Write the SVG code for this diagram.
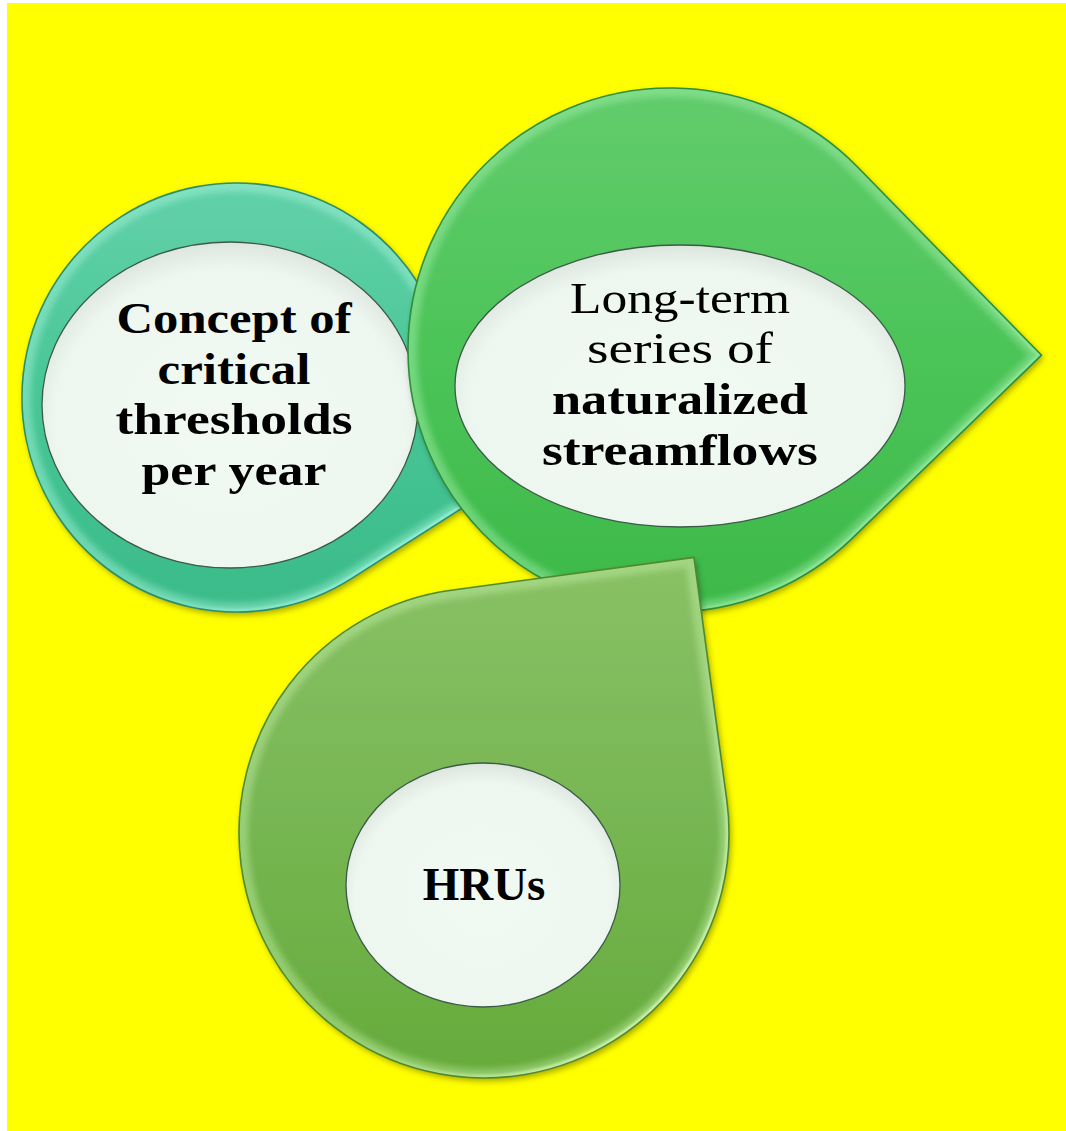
<svg xmlns="http://www.w3.org/2000/svg" width="1066" height="1131" viewBox="0 0 1066 1131">
  <style>
    .lbl { font-family: "Liberation Serif", "DejaVu Serif", serif; font-size: 45px; fill: #000; text-anchor: middle; }
    .b { font-weight: bold; }
    .r { font-weight: normal; }
    .outline { fill: none; stroke-width: 1.6; }
    .glow { fill: none; stroke-width: 18; opacity: 0.45; }
    .edge { fill: none; stroke-width: 7; }
    .inner { stroke: #3c5a48; stroke-width: 1.3; }
  </style>
  <defs>
    <linearGradient id="gTeal" x1="0" y1="0" x2="0" y2="1">
      <stop offset="0" stop-color="#63D1AA"/>
      <stop offset="0.5" stop-color="#48C696"/>
      <stop offset="1" stop-color="#3BBB89"/>
    </linearGradient>
    <linearGradient id="gGreen" x1="0" y1="0" x2="0" y2="1">
      <stop offset="0" stop-color="#62CC6C"/>
      <stop offset="0.5" stop-color="#4CC458"/>
      <stop offset="1" stop-color="#3DB949"/>
    </linearGradient>
    <linearGradient id="gOlive" x1="0" y1="0" x2="0" y2="1">
      <stop offset="0" stop-color="#89C166"/>
      <stop offset="0.5" stop-color="#77B652"/>
      <stop offset="1" stop-color="#66AB3C"/>
    </linearGradient>
    <linearGradient id="eTeal" x1="0" y1="0" x2="1" y2="1">
      <stop offset="0.55" stop-color="#9BF7E2" stop-opacity="0"/>
      <stop offset="0.85" stop-color="#9BF7E2" stop-opacity="0.9"/>
    </linearGradient>
    <linearGradient id="eGreen" x1="0" y1="0" x2="1" y2="1">
      <stop offset="0.55" stop-color="#9CF0A4" stop-opacity="0"/>
      <stop offset="0.85" stop-color="#9CF0A4" stop-opacity="0.9"/>
    </linearGradient>
    <linearGradient id="eOlive" x1="0" y1="0" x2="1" y2="1">
      <stop offset="0.55" stop-color="#CFF5B0" stop-opacity="0"/>
      <stop offset="0.85" stop-color="#CFF5B0" stop-opacity="0.9"/>
    </linearGradient>
    <radialGradient id="gInner" cx="0.5" cy="0.55" r="0.55">
      <stop offset="0" stop-color="#F1F9F3"/>
      <stop offset="0.85" stop-color="#EDF7EF"/>
      <stop offset="1" stop-color="#DCE6DE"/>
    </radialGradient>
    <filter id="shadow" x="-10%" y="-10%" width="125%" height="125%">
      <feDropShadow dx="2" dy="3" stdDeviation="3" flood-color="#000" flood-opacity="0.35"/>
    </filter>
    <filter id="soft" x="-10%" y="-10%" width="120%" height="120%">
      <feGaussianBlur stdDeviation="3"/>
    </filter>
    <filter id="softer" x="-10%" y="-10%" width="120%" height="120%">
      <feGaussianBlur stdDeviation="1.2"/>
    </filter>
    <path id="pTeal" d="M417.4,282.25 L532.65,463.15 L351.75,578.4 A214.5,214.5 0 1 1 417.4,282.25 Z"/>
    <path id="pGreen" d="M857.8,167.3 L1041.5,355.2 L852.7,537.8 A262,262 0 1 1 857.8,167.3 Z"/>
    <path id="pOlive" d="M451.17,590.21 L693.96,557.38 L726.79,800.17 A245,245 0 1 1 451.17,590.21 Z"/>
    <clipPath id="cTeal"><use href="#pTeal"/></clipPath>
    <clipPath id="cGreen"><use href="#pGreen"/></clipPath>
    <clipPath id="cOlive"><use href="#pOlive"/></clipPath>
  </defs>

  <rect x="0" y="0" width="1066" height="1131" fill="#FFFFFF"/>
  <rect x="7" y="3" width="1059" height="1128" fill="#FFFF00"/>

  <g id="connectors"></g>

  <g id="node-concept">
    <use href="#pTeal" fill="url(#gTeal)" filter="url(#shadow)"/>
    <g clip-path="url(#cTeal)">
      <use href="#pTeal" class="glow" stroke="#A8F5DD" filter="url(#soft)"/>
      <use href="#pTeal" class="edge" stroke="url(#eTeal)" filter="url(#softer)"/>
    </g>
    <use href="#pTeal" class="outline" stroke="#2C8E68"/>
    <ellipse class="inner" cx="230" cy="405" rx="188" ry="163" fill="url(#gInner)"/>
    <text class="lbl b" x="234" y="333" textLength="235" lengthAdjust="spacingAndGlyphs">Concept of</text>
    <text class="lbl b" x="234" y="383.5" textLength="153" lengthAdjust="spacingAndGlyphs">critical</text>
    <text class="lbl b" x="234" y="434" textLength="237" lengthAdjust="spacingAndGlyphs">thresholds</text>
    <text class="lbl b" x="234" y="484.5" textLength="185" lengthAdjust="spacingAndGlyphs">per year</text>
  </g>

  <g id="node-longterm">
    <use href="#pGreen" fill="url(#gGreen)" filter="url(#shadow)"/>
    <g clip-path="url(#cGreen)">
      <use href="#pGreen" class="glow" stroke="#A6F0AE" filter="url(#soft)"/>
      <use href="#pGreen" class="edge" stroke="url(#eGreen)" filter="url(#softer)"/>
    </g>
    <use href="#pGreen" class="outline" stroke="#2D8F3A"/>
    <ellipse class="inner" cx="680" cy="386" rx="225" ry="141" fill="url(#gInner)"/>
    <text class="lbl r" x="680" y="313" textLength="220" lengthAdjust="spacingAndGlyphs">Long-term</text>
    <text class="lbl r" x="680" y="363" textLength="186" lengthAdjust="spacingAndGlyphs">series of</text>
    <text class="lbl b" x="680" y="414" textLength="256" lengthAdjust="spacingAndGlyphs">naturalized</text>
    <text class="lbl b" x="680" y="465" textLength="276" lengthAdjust="spacingAndGlyphs">streamflows</text>
  </g>

  <g id="node-hrus">
    <use href="#pOlive" fill="url(#gOlive)" filter="url(#shadow)"/>
    <g clip-path="url(#cOlive)">
      <use href="#pOlive" class="glow" stroke="#C4EFA6" filter="url(#soft)"/>
      <use href="#pOlive" class="edge" stroke="url(#eOlive)" filter="url(#softer)"/>
    </g>
    <use href="#pOlive" class="outline" stroke="#4E8A2C"/>
    <ellipse class="inner" cx="483" cy="885" rx="137" ry="122" fill="url(#gInner)"/>
    <text class="lbl b" x="484" y="900" style="font-size:47px">HRUs</text>
  </g>
</svg>
